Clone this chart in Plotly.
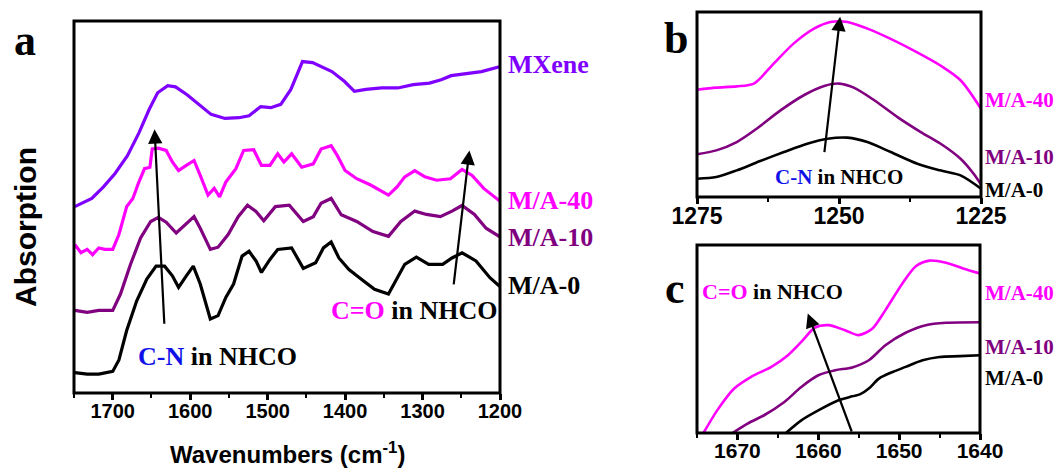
import plotly.graph_objects as go

# ---------------- Panel a data (wavenumber, absorption a.u.) ----------------
a_mxene_x = [1749, 1727, 1712, 1697, 1681, 1666, 1653, 1642, 1629, 1619, 1604, 1588, 1573, 1555,
             1537, 1524, 1509, 1496, 1483, 1470, 1455, 1442, 1427, 1417, 1401, 1388, 1373, 1353,
             1332, 1312, 1291, 1276, 1263, 1245, 1224, 1199]
a_mxene_y = [50.1, 52.3, 55.4, 59.0, 63.8, 70.0, 76.2, 80.7, 82.6, 82.3, 80.2, 77.6, 74.9, 73.8,
             74.0, 74.5, 77.0, 76.7, 77.6, 81.6, 89.1, 88.8, 87.3, 86.4, 83.8, 81.1, 81.6, 82.0,
             82.0, 82.9, 83.3, 84.2, 85.3, 85.8, 86.4, 87.8]

a_ma40_x = [1749, 1741, 1733, 1726, 1718, 1710, 1700, 1692, 1682, 1674, 1667, 1659, 1652, 1649,
            1641, 1631, 1623, 1615, 1605, 1595, 1587, 1577, 1569, 1562, 1554, 1541, 1531, 1518,
            1508, 1497, 1487, 1479, 1469, 1456, 1441, 1431, 1418, 1410, 1400, 1385, 1367, 1354,
            1344, 1333, 1323, 1310, 1297, 1282, 1264, 1249, 1236, 1221, 1199]
a_ma40_y = [39.9, 37.7, 38.6, 37.2, 39.0, 38.6, 38.6, 42.6, 50.1, 52.3, 56.3, 60.3, 60.7, 65.6,
            65.8, 65.2, 62.1, 59.8, 61.2, 62.5, 58.5, 53.2, 55.0, 52.7, 56.7, 60.3, 65.2, 65.4,
            61.2, 61.2, 64.3, 62.1, 64.3, 60.7, 61.6, 65.6, 66.5, 63.8, 59.8, 57.6, 55.9, 54.5,
            53.2, 55.4, 58.1, 59.8, 58.1, 57.2, 57.6, 60.1, 58.5, 55.0, 51.4]

a_ma10_x = [1749, 1733, 1718, 1700, 1690, 1677, 1664, 1651, 1641, 1631, 1618, 1608, 1595, 1587,
            1574, 1564, 1551, 1538, 1526, 1515, 1505, 1490, 1472, 1454, 1441, 1431, 1418, 1405,
            1385, 1364, 1344, 1328, 1310, 1295, 1277, 1262, 1249, 1233, 1218, 1199]
a_ma10_y = [22.2, 21.7, 22.2, 22.2, 26.6, 34.6, 41.7, 46.1, 47.2, 45.9, 43.0, 44.8, 47.4, 44.3,
            38.6, 39.2, 42.6, 47.4, 50.5, 48.8, 46.3, 50.1, 50.5, 46.1, 47.4, 51.0, 52.3, 47.9,
            46.1, 43.4, 42.1, 46.1, 48.9, 48.0, 47.4, 48.9, 50.4, 48.0, 44.3, 41.8]

a_ma0_x = [1749, 1733, 1718, 1700, 1692, 1682, 1669, 1656, 1644, 1633, 1623, 1615, 1605, 1596,
           1587, 1574, 1564, 1554, 1544, 1533, 1524, 1515, 1508, 1497, 1487, 1469, 1454, 1438,
           1428, 1418, 1408, 1395, 1379, 1362, 1344, 1333, 1323, 1308, 1292, 1274, 1262, 1249,
           1231, 1213, 1199]
a_ma0_y = [5.5, 5.1, 5.1, 5.8, 8.9, 16.8, 24.8, 30.6, 34.1, 34.1, 31.5, 28.4, 31.5, 34.1,
           29.3, 19.9, 20.8, 25.7, 29.3, 36.8, 38.1, 35.5, 32.4, 35.9, 38.6, 39.0, 33.5, 35.0,
           39.0, 40.6, 36.3, 33.2, 30.6, 27.9, 26.6, 30.6, 34.6, 36.5, 34.6, 34.6, 36.3, 37.7,
           35.5, 31.0, 28.4]

# ---------------- Panel b data ----------------
b_ma40_x = [1275, 1271.6, 1268, 1265, 1261.5, 1258, 1254.4, 1251.5, 1248.5, 1245, 1241, 1236.9, 1232.2, 1228.6, 1225]
b_ma40_y = [58.0, 59.1, 59.8, 61.3, 72.1, 82.9, 91.0, 94.6, 94.6, 91.0, 85.6, 79.3, 71.2, 63.1, 47.7]
b_ma10_x = [1275, 1271.6, 1268, 1264.5, 1260.3, 1256.2, 1252.6, 1250, 1247.4, 1243.8, 1239.7, 1235.6, 1232.1, 1228.6, 1226.3, 1225]
b_ma10_y = [23.1, 25.2, 29.7, 36.9, 46.8, 55.0, 60.0, 61.3, 59.1, 52.3, 43.2, 35.1, 28.8, 20.7, 12.6, 6.8]
b_ma0_x = [1275, 1271.6, 1268, 1264, 1259.7, 1255.6, 1252, 1248.5, 1245, 1240.9, 1236.2, 1232.2, 1228.6, 1225]
b_ma0_y = [9.9, 10.8, 14.4, 19.3, 24.3, 28.8, 31.5, 32.1, 29.7, 24.3, 18.0, 14.4, 11.7, 4.5]

# ---------------- Panel c data ----------------
c_ma40_x = [1674.2, 1672.5, 1670.4, 1668.3, 1665.8, 1663.75, 1662.1, 1660.4, 1658.75, 1656.7, 1655,
            1653.3, 1651.7, 1649.6, 1647.9, 1646.25, 1644.2, 1642.1, 1640]
c_ma40_y = [0.0, 11.6, 22.8, 28.8, 33.9, 39.9, 46.7, 54.1, 55.3, 52.7, 50.2, 53.6, 63.0, 76.7,
            85.6, 88.4, 87.3, 84.4, 81.8]
c_ma10_x = [1670.6, 1668.75, 1666.7, 1664.2, 1662.1, 1660, 1657.9, 1655.8, 1653.75, 1651.7, 1649.2,
            1646.7, 1644.2, 1640]
c_ma10_y = [0.0, 4.8, 9.1, 15.9, 23.6, 29.6, 32.2, 33.6, 37.3, 45.0, 51.4, 55.3, 56.5, 56.8]
c_ma0_x = [1664, 1662.1, 1660, 1657.5, 1655.8, 1654.8, 1653.75, 1652.5, 1650.8, 1649.2, 1647.1,
           1645, 1642.5, 1640]
c_ma0_y = [0.0, 6.5, 11.6, 16.8, 18.8, 19.9, 22.8, 27.9, 31.3, 33.9, 37.3, 39.0, 39.4, 39.9]

series_names = ["MXene", "M/A-40", "M/A-10", "M/A-0"]
series_colors = ["#7f00ff", "#ff00ff", "#800080", "#000000"]

a_ticks = [1700, 1600, 1500, 1400, 1300, 1200]
b_ticks = [1275, 1250, 1225]
c_ticks = [1670, 1660, 1650, 1640]

# ---------------- Figure ----------------
fig = go.Figure()
serif = "Liberation Serif, Times New Roman, serif"
sans = "Liberation Sans, Arial, sans-serif"

panel_a = [(a_mxene_x, a_mxene_y), (a_ma40_x, a_ma40_y), (a_ma10_x, a_ma10_y), (a_ma0_x, a_ma0_y)]
for (xs, ys), name, col in zip(panel_a, series_names, series_colors):
    fig.add_trace(go.Scatter(x=xs, y=ys, mode="lines", name=name,
                             line=dict(color=col, width=3.2), xaxis="x", yaxis="y"))

panel_b = [(b_ma40_x, b_ma40_y), (b_ma10_x, b_ma10_y), (b_ma0_x, b_ma0_y)]
for (xs, ys), name, col in zip(panel_b, series_names[1:], series_colors[1:]):
    fig.add_trace(go.Scatter(x=xs, y=ys, mode="lines", name=name, showlegend=False,
                             line=dict(color=col, width=2.6, shape="spline", smoothing=0.8),
                             xaxis="x2", yaxis="y2"))

panel_c = [(c_ma40_x, c_ma40_y), (c_ma10_x, c_ma10_y), (c_ma0_x, c_ma0_y)]
for (xs, ys), name, col in zip(panel_c, series_names[1:], series_colors[1:]):
    fig.add_trace(go.Scatter(x=xs, y=ys, mode="lines", name=name, showlegend=False,
                             line=dict(color=col, width=2.6, shape="spline", smoothing=0.8),
                             xaxis="x3", yaxis="y3"))


def xaxis(domain, rng, ticks, minor_dtick, fsize, anchor, standoff):
    return dict(domain=domain, range=rng, anchor=anchor, tickmode="array", tickvals=ticks,
                showline=False, ticks="outside", ticklen=6, tickwidth=2.8, tickcolor="black",
                ticklabelstandoff=standoff,
                minor=dict(ticks="outside", ticklen=4, tickwidth=2.2, tickcolor="black",
                           tickmode="linear", dtick=minor_dtick, tick0=ticks[0]),
                tickfont=dict(family=sans, size=fsize, color="black", weight="bold"),
                showgrid=False, zeroline=False, automargin=False)


def yaxis(domain, anchor, top):
    return dict(domain=domain, range=[0, top], anchor=anchor, showticklabels=False,
                ticks="", showline=False, showgrid=False, zeroline=False, automargin=False)


W, H = 1059, 468
def px(x):
    return x / W
def py(y):
    return 1 - y / H

fig.update_layout(
    width=W, height=H, margin=dict(l=0, r=0, t=0, b=0, pad=0, autoexpand=False),
    paper_bgcolor="white", plot_bgcolor="white", showlegend=False,
    xaxis=xaxis([px(74), px(500)], [1750, 1200], a_ticks, 50, 20, "y", -6),
    yaxis=yaxis([py(393), py(21)], "x", 100),
    xaxis2=xaxis([px(697), px(981)], [1275, 1225], b_ticks, 12.5, 23, "y2", -8),
    yaxis2=yaxis([py(197), py(12)], "x2", 100),
    xaxis3=xaxis([px(697), px(980)], [1675, 1640], c_ticks, 5, 21, "y3", -7),
    yaxis3=yaxis([py(433), py(245)], "x3", 96.4),
)

# frames
for xr, yr in [("x", "y"), ("x2", "y2"), ("x3", "y3")]:
    fig.add_shape(type="rect", xref=xr + " domain", yref=yr + " domain", x0=0, x1=1, y0=0, y1=1,
                  line=dict(color="black", width=3), fillcolor="rgba(0,0,0,0)", layer="above")

ann = []
# panel letters
for letter, x, y in [("a", 25, 40), ("b", 676, 38), ("c", 675, 288)]:
    ann.append(dict(text="<b>%s</b>" % letter, x=px(x), y=py(y), xref="paper", yref="paper",
                    xanchor="center", yanchor="middle", showarrow=False,
                    font=dict(family=serif, size=44, color="black")))

# axis titles for panel a
ann.append(dict(text="<b>Absorption</b>", x=px(25), y=py(227), xref="paper", yref="paper",
                xanchor="center", yanchor="middle", textangle=-90, showarrow=False,
                font=dict(family=sans, size=30, color="black")))
ann.append(dict(text="<b>Wavenumbers (cm<sup>-1</sup>)</b>", x=px(287), y=py(453), xref="paper",
                yref="paper", xanchor="center", yanchor="middle", showarrow=False,
                font=dict(family=sans, size=24, color="black")))

# series labels
for name, col, y in zip(series_names, series_colors, [65, 200, 237, 285]):
    ann.append(dict(text="<b>%s</b>" % name, x=px(506), y=py(y), xref="paper", yref="paper",
                    xanchor="left", yanchor="middle", showarrow=False,
                    font=dict(family=serif, size=26, color=col)))
for name, col, y in zip(series_names[1:], series_colors[1:], [100, 157, 190]):
    ann.append(dict(text="<b>%s</b>" % name, x=px(983), y=py(y), xref="paper", yref="paper",
                    xanchor="left", yanchor="middle", showarrow=False,
                    font=dict(family=serif, size=21, color=col)))
for name, col, y in zip(series_names[1:], series_colors[1:], [293, 347, 378]):
    ann.append(dict(text="<b>%s</b>" % name, x=px(983), y=py(y), xref="paper", yref="paper",
                    xanchor="left", yanchor="middle", showarrow=False,
                    font=dict(family=serif, size=21, color=col)))

# band annotations
cn = '<b><span style="color:#1010e8">C-N</span> in NHCO</b>'
co = '<b><span style="color:#ff00ff">C=O</span> in NHCO</b>'
ann.append(dict(text=cn, x=1565, y=9.8, xref="x", yref="y", xanchor="center", yanchor="middle",
                showarrow=False, font=dict(family=serif, size=26, color="black")))
ann.append(dict(text=co, x=1200, y=22.2, xref="x", yref="y", xanchor="right", yanchor="middle",
                showarrow=False, font=dict(family=serif, size=26, color="black")))
ann.append(dict(text=cn, x=1250, y=10.8, xref="x2", yref="y2", xanchor="center", yanchor="middle",
                showarrow=False, font=dict(family=serif, size=21, color="black")))
ann.append(dict(text=co, x=1665.7, y=72.4, xref="x3", yref="y3", xanchor="center", yanchor="middle",
                showarrow=False, font=dict(family=serif, size=22, color="black")))

# arrows (head at x,y ; tail at ax,ay)
arrows = [("x", "y", 1646, 70.9, 1633.3, 18.2),
          ("x", "y", 1239.5, 65.2, 1260, 28.8),
          ("x2", "y2", 1249.8, 97.5, 1252.6, 23.4),
          ("x3", "y3", 1661.3, 61.3, 1655.8, 0.0)]
for xr, yr, x, y, ax, ay in arrows:
    ann.append(dict(x=x, y=y, ax=ax, ay=ay, xref=xr, yref=yr, axref=xr, ayref=yr, text="",
                    showarrow=True, arrowhead=2, arrowsize=1.3, arrowwidth=2.2, arrowcolor="black"))

fig.update_layout(annotations=ann)
fig.write_html("out.html", config={"displayModeBar": False},
               post_script="document.body.style.margin='0';")
